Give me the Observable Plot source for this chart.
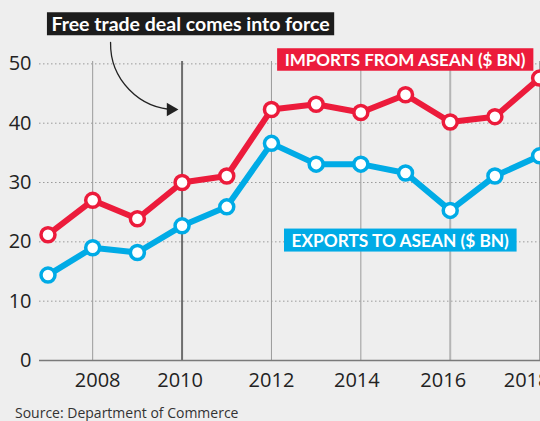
<!DOCTYPE html>
<html>
<head>
<meta charset="utf-8">
<script src="https://cdn.jsdelivr.net/npm/d3@7"></script>
<script src="https://cdn.jsdelivr.net/npm/@observablehq/plot@0.6"></script>
<style>
  html, body { margin: 0; padding: 0; background: #eeeeee; }
  #chart { width: 540px; height: 421px; overflow: hidden; background: #eeeeee; }
  #chart svg { display: block; }
  .source { font-family: "Open Sans", sans-serif; font-size: 14px; color: #333; padding-left: 15px; line-height: 19px; height: 19px; position: relative; top: 1px; }
</style>
</head>
<body>
<div id="chart"></div>
<script>
const years = [2007, 2008, 2009, 2010, 2011, 2012, 2013, 2014, 2015, 2016, 2017, 2018];
const imports = [21.2, 27.0, 23.9, 30.0, 31.1, 42.3, 43.2, 41.8, 44.8, 40.2, 41.1, 47.6];
const exportsV = [14.4, 19.0, 18.2, 22.7, 25.9, 36.6, 33.1, 33.1, 31.6, 25.3, 31.1, 34.5];
const xTicks = [2008, 2010, 2012, 2014, 2016, 2018];
const yTicks = [0, 10, 20, 30, 40, 50];
const titleLabel = "Free trade deal comes into force";
const importsLabel = "IMPORTS FROM ASEAN ($ BN)";
const exportsLabel = "EXPORTS TO ASEAN ($ BN)";
const sourceLabel = "Source: Department of Commerce";

// horizontal nudges (px) of each x tick label, as in the reference
const tickNudge = [5, -2, 0, -4, -7, -13];

const RED = "#ec1b3b";
const BLUE = "#00abe6";

const impData = years.map((y, i) => ({year: y, value: imports[i]}));
const expData = years.map((y, i) => ({year: y, value: exportsV[i]}));

const noteFont = "Lato, 'Open Sans', sans-serif";

const plot = Plot.plot({
  width: 540,
  height: 402,
  marginLeft: 39,
  marginRight: 0,
  marginTop: 61,
  marginBottom: 42,
  style: {background: "#eeeeee", fontFamily: "'Open Sans', sans-serif", fontSize: "20px", color: "#222", overflow: "visible"},
  x: {domain: [2006.81, 2018.02]},
  y: {domain: [0, 50.4]},
  marks: [
    Plot.ruleY(yTicks.filter(d => d > 0), {stroke: "#9a9a9a", strokeWidth: 1, strokeDasharray: "1.5,2.5"}),
    Plot.ruleX(xTicks.filter(d => d !== 2010 && d !== 2016), {stroke: "#9a9a9a", strokeWidth: 1}),
    Plot.ruleX([2016], {stroke: "#b5b5b5", strokeWidth: 2}),
    Plot.ruleX([2010], {stroke: "#6e6e6e", strokeWidth: 2}),
    Plot.ruleY([0], {stroke: "#7a7a7a", strokeWidth: 1.5}),
    ...xTicks.map((t, i) => Plot.axisX([t], {tickSize: 0, tickPadding: 12, tickFormat: d => String(d), label: null, fill: "#222", dx: tickNudge[i]})),
    Plot.axisY({ticks: yTicks, tickSize: 0, tickPadding: 8, label: null, fill: "#222"}),
    Plot.line(expData, {x: "year", y: "value", stroke: BLUE, strokeWidth: 6, strokeLinejoin: "round"}),
    Plot.dot(expData, {x: "year", y: "value", r: 7, fill: "white", stroke: BLUE, strokeWidth: 3.5}),
    Plot.line(impData, {x: "year", y: "value", stroke: RED, strokeWidth: 6, strokeLinejoin: "round"}),
    Plot.dot(impData, {x: "year", y: "value", r: 7, fill: "white", stroke: RED, strokeWidth: 3.5}),
    Plot.arrow([{x1: 2008.40, y1: 53.6, x2: 2009.85, y2: 42.3}], {
      x1: "x1", y1: "y1", x2: "x2", y2: "y2", bend: -45, stroke: "#222", strokeWidth: 1.3, headLength: 0
    }),
    Plot.dot([{x: 2009.745, y: 42.3}], {x: "x", y: "y", symbol: "triangle", r: 5, rotate: 90, fill: "#222", stroke: "none"}),
    Plot.text([titleLabel], {x: () => 2010.19, y: () => 56.55, text: d => d, fill: "white", fontWeight: "bold", fontSize: 19.5, fontFamily: noteFont, ariaDescription: "note-dark"}),
    Plot.text([importsLabel], {x: () => 2014.99, y: () => 50.56, text: d => d, fill: "white", fontWeight: "bold", fontSize: 17, fontFamily: noteFont, ariaDescription: "note-red"}),
    Plot.text([exportsLabel], {x: () => 2014.88, y: () => 20.14, text: d => d, fill: "white", fontWeight: "bold", fontSize: 17.3, fontFamily: noteFont, ariaDescription: "note-blue"})
  ]
});

const chart = document.getElementById("chart");
chart.appendChild(plot);
const src = document.createElement("div");
src.className = "source";
src.textContent = sourceLabel;
chart.appendChild(src);

const boxes = [["note-dark", "#1c1c1c", 4.5, 23], ["note-red", RED, 7.5, 22.5], ["note-blue", BLUE, 7.5, 23]];
for (const [label, color, padX, h] of boxes) {
  plot.querySelectorAll(`g[aria-description="${label}"] text`).forEach(t => {
    const bb = t.getBBox();
    const cy = bb.y + bb.height / 2;
    const rect = document.createElementNS("http://www.w3.org/2000/svg", "rect");
    rect.setAttribute("x", bb.x - padX);
    rect.setAttribute("y", cy - h / 2);
    rect.setAttribute("width", bb.width + 2 * padX);
    rect.setAttribute("height", h);
    rect.setAttribute("fill", color);
    const tr = t.getAttribute("transform");
    if (tr) rect.setAttribute("transform", tr);
    t.parentNode.insertBefore(rect, t);
  });
}
</script>
</body>
</html>
